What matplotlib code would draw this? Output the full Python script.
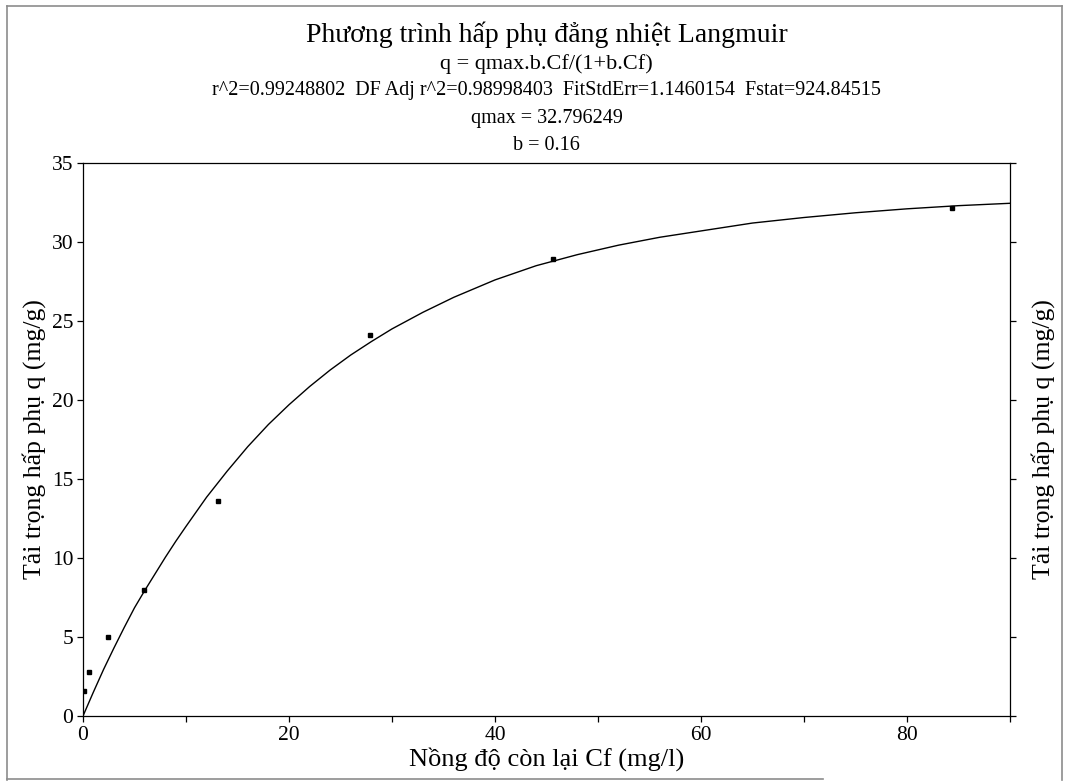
import matplotlib
matplotlib.use("Agg")
import matplotlib.pyplot as plt
from matplotlib.lines import Line2D

# measured points (Cf in mg/l, q in mg/g)
cf = [0.1, 0.6, 2.4, 5.9, 13.1, 27.9, 45.6, 84.4]
q = [1.6, 2.8, 5.0, 8.0, 13.6, 24.1, 28.9, 32.15]

# fitted curve
fit_cf = [0, 1, 2, 3, 4, 5, 6, 7, 8, 9, 10, 12, 14, 16, 18, 20, 22, 24, 26,
          28, 30, 33, 36, 40, 44, 48, 52, 56, 60, 65, 70, 75, 80, 85, 90]
fit_q = [0, 1.5, 2.95, 4.3, 5.6, 6.85, 7.95, 9.0, 10.05, 11.05, 12.0, 13.85,
         15.5, 17.05, 18.45, 19.7, 20.85, 21.9, 22.85, 23.7, 24.5, 25.55,
         26.5, 27.6, 28.5, 29.2, 29.8, 30.3, 30.7, 31.2, 31.55, 31.85, 32.1,
         32.3, 32.45]

title_lines = [
    ("Phương trình hấp phụ đẳng nhiệt Langmuir", 20, 35),
    ("q = qmax.b.Cf/(1+b.Cf)", 16, 64),
    ("r^2=0.99248802  DF Adj r^2=0.98998403  FitStdErr=1.1460154  Fstat=924.84515", 14.5, 91),
    ("qmax = 32.796249", 14.5, 119),
    ("b = 0.16", 14.5, 146),
]

serif = ["Liberation Serif", "DejaVu Serif"]
plt.rcParams["font.family"] = serif

W, H = 1071, 781
fig = plt.figure(figsize=(W / 100, H / 100), dpi=100)
ax = fig.add_axes([83 / W, 65 / H, 927 / W, 553 / H])

ax.plot(fit_cf, fit_q, color="black", lw=1.0)
ax.plot(cf, q, ls="none", marker="s", ms=2.4, color="black")

ax.set_xlim(0, 90)
ax.set_ylim(0, 35)
ax.set_xticks([0, 20, 40, 60, 80])
ax.set_xticks([10, 30, 50, 70, 90], minor=True)
ax.set_yticks(range(0, 36, 5))
ax.tick_params(axis="both", which="both", direction="out", length=4, width=0.9,
               labelsize=15.5, pad=3, right=True)
ax.tick_params(axis="y", labelright=False)
for s in ax.spines.values():
    s.set_linewidth(0.9)

ax.set_xlabel("Nồng độ còn lại Cf (mg/l)", fontsize=19, labelpad=2)
ax.set_ylabel("Tải trọng hấp phụ q (mg/g)", fontsize=18.5, labelpad=4)
fig.text(1043 / W, (65 + 553 / 2) / H, "Tải trọng hấp phụ q (mg/g)", fontsize=18.5,
         rotation=90, ha="center", va="center")

cx = (83 + 1010) / 2 / W
for txt, fs, ypix in title_lines:
    fig.text(cx, 1 - ypix / H, txt, fontsize=fs, ha="center", va="center")

# scanned page frame
frame = dict(color="0.55", lw=1.2, transform=fig.transFigure)
fig.add_artist(Line2D([7 / W, 7 / W], [1 - 780 / H, 1 - 6 / H], **frame))
fig.add_artist(Line2D([1062 / W, 1062 / W], [1 - 780 / H, 1 - 6 / H], **frame))
fig.add_artist(Line2D([7 / W, 1062 / W], [1 - 6 / H, 1 - 6 / H], **frame))
fig.add_artist(Line2D([7 / W, 823 / W], [1 - 779 / H, 1 - 779 / H], **frame))

fig.savefig("out.png", dpi=100)
